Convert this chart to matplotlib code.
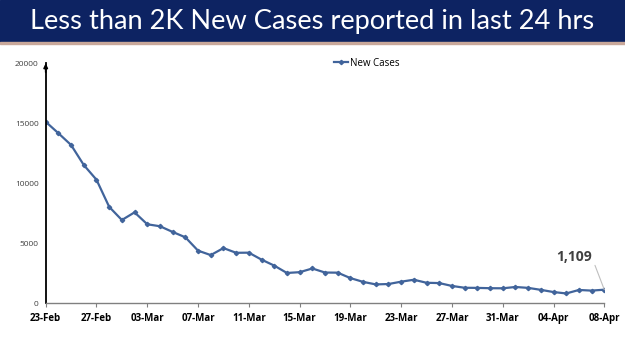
import matplotlib.pyplot as plt
import matplotlib.ticker as mticker

# Daily new cases, 23-Feb to 08-Apr
dates = ['23-Feb', '24-Feb', '25-Feb', '26-Feb', '27-Feb', '28-Feb',
         '01-Mar', '02-Mar', '03-Mar', '04-Mar', '05-Mar', '06-Mar', '07-Mar',
         '08-Mar', '09-Mar', '10-Mar', '11-Mar', '12-Mar', '13-Mar', '14-Mar',
         '15-Mar', '16-Mar', '17-Mar', '18-Mar', '19-Mar', '20-Mar', '21-Mar',
         '22-Mar', '23-Mar', '24-Mar', '25-Mar', '26-Mar', '27-Mar', '28-Mar',
         '29-Mar', '30-Mar', '31-Mar', '01-Apr', '02-Apr', '03-Apr', '04-Apr',
         '05-Apr', '06-Apr', '07-Apr', '08-Apr']
new_cases = [15102, 14148, 13166, 11499, 10273, 8013,
             6915, 7554, 6561, 6396, 5921, 5476, 4362,
             3993, 4575, 4184, 4194, 3614, 3116, 2503,
             2568, 2876, 2539, 2528, 2075, 1761, 1549,
             1581, 1778, 1938, 1685, 1660, 1421, 1270,
             1259, 1233, 1225, 1335, 1260, 1096, 913,
             795, 1086, 1033, 1109]
yticks = [0, 5000, 10000, 15000, 20000]

title = 'Less than 2K New Cases reported in last 24 hrs'
line_color = '#41649b'

fig = plt.figure(figsize=(6.25, 3.51), dpi=100)

# title banner
fig.patches.append(plt.Rectangle((0, 1 - 42 / 351), 1, 42 / 351, transform=fig.transFigure,
                                 color='#0d2362', zorder=0))
fig.patches.append(plt.Rectangle((0, 1 - 44 / 351), 1, 2 / 351, transform=fig.transFigure,
                                 color='#c9a89a', zorder=0))
fig.text(0.5, 1 - 21 / 351, title, color='white', ha='center', va='center',
         fontsize=19.6, family='Lato')

ax = fig.add_axes([45.7 / 625, 1 - 303 / 351, (604.3 - 45.7) / 625, (303 - 63) / 351])
x = list(range(len(dates)))
ax.plot(x, new_cases, color=line_color, lw=1.6, marker='D', ms=2.2, label='New Cases')

ax.set_xlim(0, len(dates) - 1)
ax.set_ylim(0, 20000)
ax.set_xticks(x[::4])
ax.set_xticklabels(dates[::4], fontsize=7, fontweight='bold', family='Open Sans')
ax.set_yticks(yticks)
ax.yaxis.set_major_formatter(mticker.FuncFormatter(lambda v, p: f'{int(v)}'))
for lab in ax.get_yticklabels():
    lab.set_fontsize(6)
    lab.set_color('#404040')
    lab.set_family('Open Sans')
ax.tick_params(axis='y', length=0, pad=5)
ax.tick_params(axis='x', length=3, width=0.8, color='#808080', pad=4)

for s in ['top', 'right']:
    ax.spines[s].set_visible(False)
ax.spines['left'].set_color('black')
ax.spines['left'].set_linewidth(1.3)
ax.spines['bottom'].set_color('#808080')
ax.spines['bottom'].set_linewidth(1.0)
# arrow at the top of the y axis
ax.annotate('', xy=(0, 1.01), xytext=(0, 0.95), xycoords='axes fraction',
            arrowprops=dict(arrowstyle='-|>', color='black', lw=1.2, mutation_scale=6))

ax.legend(loc='center', bbox_to_anchor=(0.575, 1.0), frameon=False,
          handlelength=1.4, handletextpad=0.2, prop={'family': 'Open Sans', 'size': 7})

ax.annotate(f'{new_cases[-1]:,}', xy=(len(dates) - 1, new_cases[-1]),
            xytext=(41.6, 3850), ha='center', va='center', fontsize=10,
            fontweight='bold', color='#404040', family='Open Sans',
            arrowprops=dict(arrowstyle='-', color='#bfbfbf', lw=0.8,
                            relpos=(1, 0.5), shrinkA=1, shrinkB=0))

fig.savefig('out.png', dpi=100)
